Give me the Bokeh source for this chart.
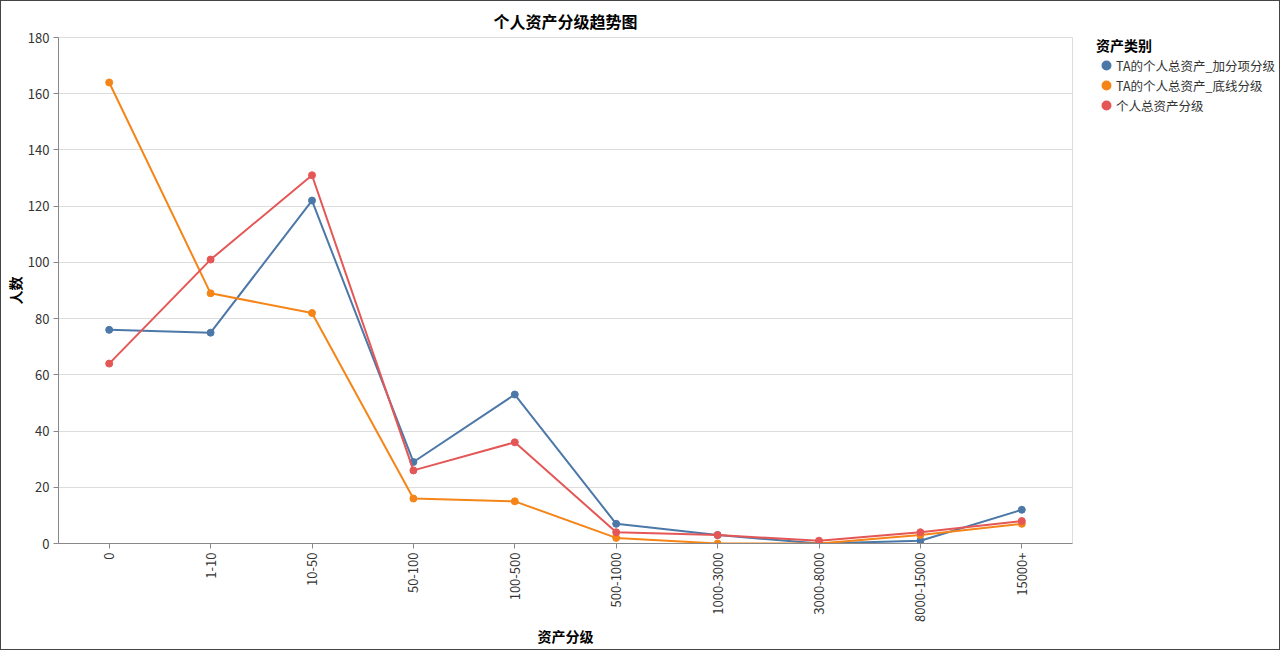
import math
from bokeh.plotting import figure
from bokeh.models import Range1d, FixedTicker, Legend, LegendItem
from bokeh.layouts import row
from bokeh.embed import file_html
from bokeh.resources import INLINE

categories = ["0", "1-10", "10-50", "50-100", "100-500", "500-1000",
              "1000-3000", "3000-8000", "8000-15000", "15000+"]
series_names = ["TA的个人总资产_加分项分级", "TA的个人总资产_底线分级", "个人总资产分级"]
bonus_level = [76, 75, 122, 29, 53, 7, 3, 0, 1, 12]
baseline_level = [164, 89, 82, 16, 15, 2, 0, 0, 3, 7]
personal_level = [64, 101, 131, 26, 36, 4, 3, 1, 4, 8]
colors = ["#4c78a8", "#f58518", "#e45756"]
y_ticks = [0, 20, 40, 60, 80, 100, 120, 140, 160, 180]

FONT = "Noto Sans CJK SC"

p = figure(width=1072, height=648, x_range=categories, y_range=Range1d(0, 180),
           output_backend="svg", toolbar_location=None,
           min_border_left=57, min_border_right=1, min_border_top=34, min_border_bottom=106)

p.title.text = "个人资产分级趋势图"
p.title.align = "center"
p.title.vertical_align = "bottom"
p.title.text_font = FONT
p.title.text_font_size = "16px"
p.title.text_font_style = "bold"
p.title.text_color = "#000"
p.title.text_line_height = 0.6
p.title.standoff = 10

p.outline_line_color = "#ddd"
p.xgrid.grid_line_color = None
p.ygrid.grid_line_color = "#ddd"
p.ygrid.ticker = FixedTicker(ticks=y_ticks)

p.yaxis.ticker = FixedTicker(ticks=y_ticks)
for ax in (p.xaxis[0], p.yaxis[0]):
    ax.axis_line_color = "#888"
    ax.major_tick_line_color = "#888"
    ax.major_tick_out = 5
    ax.major_tick_in = 0
    ax.minor_tick_line_color = None
    ax.major_label_text_font = FONT
    ax.major_label_text_font_size = "13px"
    ax.major_label_text_color = "#333"
    ax.major_label_standoff = 4
    ax.axis_label_text_font = FONT
    ax.axis_label_text_font_size = "14px"
    ax.axis_label_text_font_style = "bold"
    ax.axis_label_text_color = "#000"

p.xaxis.axis_label = "资产分级"
p.xaxis.major_label_orientation = math.pi / 2
p.xaxis.axis_label_standoff = 1
p.yaxis.axis_label = "人数"
p.yaxis.axis_label_standoff = 0

# legend panel: a second figure sharing the same ranges, holding hidden
# renderers of the same series (their legend glyphs are round dots)
lg = figure(width=206, height=648, x_range=p.x_range, y_range=p.y_range,
            output_backend="svg", toolbar_location=None,
            min_border=0, x_axis_location=None, y_axis_location=None)
lg.title = None
lg.outline_line_color = None
lg.grid.visible = False

legend_items = []
all_series = [bonus_level, baseline_level, personal_level]
for name, vals, c in zip(series_names, all_series, colors):
    p.line(categories, vals, line_color=c, line_width=2)
    p.scatter(categories, vals, size=7, fill_color=c, line_color=c)
    dot = lg.scatter(categories, vals, size=7, fill_color=c, line_color=c,
                     line_width=2, visible=False)
    legend_items.append(LegendItem(label=name, renderers=[dot]))

legend = Legend(items=legend_items, title="资产类别", location=(23, 428),
                title_text_font=FONT, title_text_font_size="14px", title_text_font_style="bold",
                title_text_color="#000",
                label_text_font=FONT, label_text_font_size="12.5px", label_text_color="#333",
                glyph_width=20, glyph_height=20, label_height=20, spacing=0,
                border_line_color=None, background_fill_alpha=0, padding=0, margin=0,
                label_standoff=0, title_standoff=0,
                inactive_fill_alpha=0)
lg.add_layout(legend, "center")

layout = row(p, lg, spacing=0)
layout.styles = {"border": "1px solid #444"}

open("out.html", "w").write(file_html(layout, INLINE))
